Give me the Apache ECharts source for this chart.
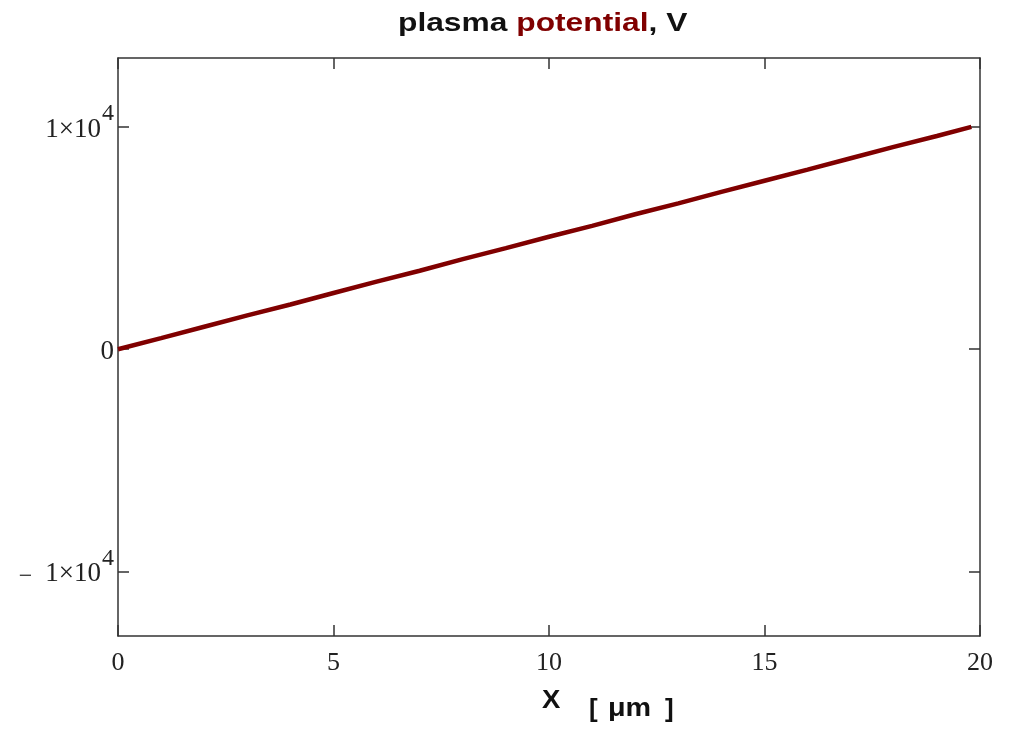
<!DOCTYPE html>
<html>
<head>
<meta charset="utf-8">
<script src="https://cdn.jsdelivr.net/npm/echarts@6/dist/echarts.min.js"></script>
<style>html,body{margin:0;padding:0;background:#fff}#c{width:1020px;height:731px}</style>
</head>
<body>
<div id="c"></div>
<script>
const xValues = [0,1,2,3,4,5,6,7,8,9,10,11,12,13,14,15,16,17,18,19,19.8];
const potential = [0,500,1010,1520,2010,2530,3040,3530,4050,4550,5060,5550,6070,6560,7080,7580,8080,8590,9100,9590,10000];
const xTicks = [0,5,10,15,20];
const yTicks = [-10000,0,10000];

const chart = echarts.init(document.getElementById('c'));
const serif = '"Liberation Serif","DejaVu Serif",serif';
const sans = '"Liberation Sans",Arial,sans-serif';
const lineCol = '#333';
function yFmt(v){
  if (v === 0) return '{n|0}';
  if (v === 10000) return '{n|1×10}{s|4}';
  if (v === -10000) return '{m|−}{n|1×10}{s|4}';
  return '';
}
const richY = {
  n:{fontFamily:serif,fontSize:27,color:'#222',padding:[5,0,0,0]},
  m:{fontFamily:serif,fontSize:24,color:'#222',padding:[10,13,0,0]},
  s:{fontFamily:serif,fontSize:24,color:'#222',padding:[0,0,26,1]}
};
chart.setOption({
  animation:false,
  backgroundColor:'#fff',
  graphic:[
    {type:'text',x:398,y:12,scaleX:1.27,scaleY:1,originX:0,originY:0,
     style:{text:'{a|plasma }{b|potential}{a|, V}',verticalAlign:'top',
       rich:{
         a:{fontFamily:sans,fontWeight:'bold',fontSize:25,fill:'#111',color:'#111'},
         b:{fontFamily:sans,fontWeight:'bold',fontSize:25,fill:'#800000',color:'#800000'}
       }}},
    {type:'text',x:542,y:689,scaleX:1.1,originX:0,originY:0,style:{text:'X',font:'bold 25px '+sans,fill:'#111',verticalAlign:'top'}},
    {type:'text',x:589,y:697,style:{text:'[',font:'bold 26px '+sans,fill:'#111',verticalAlign:'top'}},
    {type:'text',x:608,y:697,scaleX:1.15,originX:0,originY:0,style:{text:'μm',font:'bold 25px '+sans,fill:'#111',verticalAlign:'top'}},
    {type:'text',x:665,y:697,style:{text:']',font:'bold 26px '+sans,fill:'#111',verticalAlign:'top'}}
  ],
  grid:{left:118,right:40,top:58,bottom:95,containLabel:false},
  xAxis:[
    {type:'value',position:'bottom',min:0,max:20,interval:5,
     axisLine:{show:true,onZero:false,lineStyle:{color:lineCol,width:1.5}},
     axisTick:{show:true,inside:true,length:11,lineStyle:{color:lineCol,width:1.5}},
     axisLabel:{margin:14,fontFamily:serif,fontSize:26,color:'#222'},
     splitLine:{show:false}},
    {type:'value',position:'top',min:0,max:20,interval:5,
     axisLine:{show:true,onZero:false,lineStyle:{color:lineCol,width:1.5}},
     axisTick:{show:true,inside:true,length:11,lineStyle:{color:lineCol,width:1.5}},
     axisLabel:{show:false},splitLine:{show:false}}
  ],
  yAxis:[
    {type:'value',position:'left',min:-12900,max:13100,
     axisLine:{show:true,onZero:false,lineStyle:{color:lineCol,width:1.5}},
     axisTick:{show:true,inside:true,length:11,customValues:yTicks,lineStyle:{color:lineCol,width:1.5}},
     axisLabel:{margin:4,customValues:yTicks,formatter:yFmt,rich:richY},
     splitLine:{show:false}},
    {type:'value',position:'right',min:-12900,max:13100,
     axisLine:{show:true,onZero:false,lineStyle:{color:lineCol,width:1.5}},
     axisTick:{show:true,inside:true,length:11,customValues:yTicks,lineStyle:{color:lineCol,width:1.5}},
     axisLabel:{show:false},splitLine:{show:false}}
  ],
  series:[{
    type:'line',xAxisIndex:0,yAxisIndex:0,
    data:xValues.map((x,i)=>[x,potential[i]]),
    showSymbol:false,
    lineStyle:{color:'#800000',width:4.5},
    itemStyle:{color:'#800000'}
  }]
});
</script>
</body>
</html>
